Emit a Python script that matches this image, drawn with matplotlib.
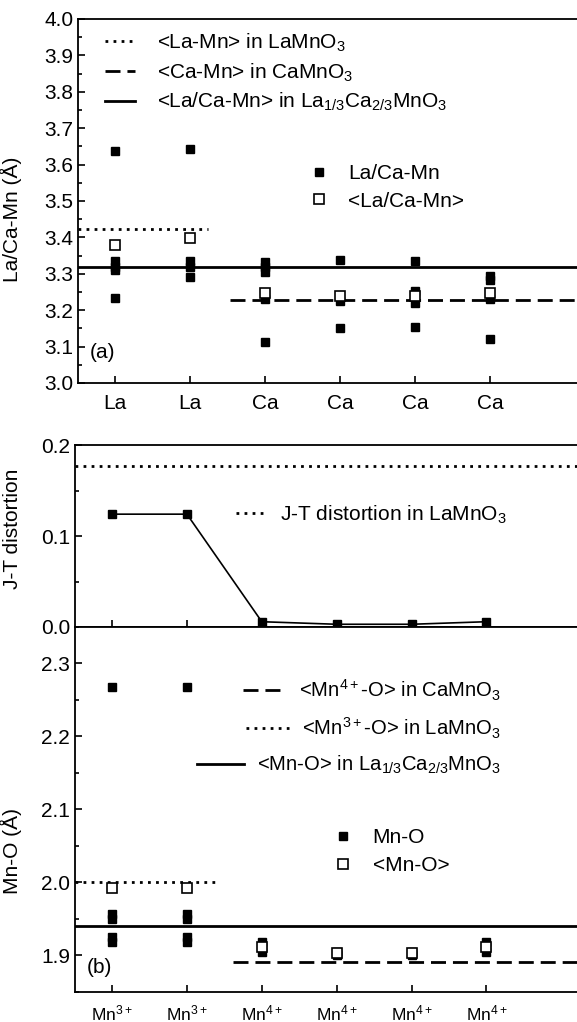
import numpy as np
import matplotlib.pyplot as plt
from matplotlib.ticker import MultipleLocator

plt.rcParams['font.family'] = ['Liberation Sans', 'DejaVu Sans']
plt.rcParams['mathtext.fontset'] = 'custom'
plt.rcParams['mathtext.rm'] = 'Liberation Sans'
plt.rcParams['mathtext.it'] = 'Liberation Sans:italic'
plt.rcParams['mathtext.bf'] = 'Liberation Sans:bold'
plt.rcParams['font.size'] = 15

# ---- data ----
positions = np.arange(1, 7)
site_labels = ['La', 'La', 'Ca', 'Ca', 'Ca', 'Ca']
mn_labels = [r'Mn$^{3+}$', r'Mn$^{3+}$', r'Mn$^{4+}$', r'Mn$^{4+}$', r'Mn$^{4+}$', r'Mn$^{4+}$']

# (a) La/Ca-Mn distances per A site
la_ca_mn = [
    [3.638, 3.335, 3.320, 3.310, 3.234],
    [3.642, 3.335, 3.320, 3.292],
    [3.333, 3.320, 3.305, 3.230, 3.112],
    [3.338, 3.226, 3.152],
    [3.335, 3.252, 3.221, 3.155],
    [3.295, 3.283, 3.230, 3.120],
]
la_ca_mn_mean = [3.379, 3.399, 3.248, 3.238, 3.239, 3.246]
la_mn_lamno3 = 3.422
ca_mn_camno3 = 3.228
la_ca_mn_avg = 3.320

# J-T distortion per Mn site
jt = [0.124, 0.124, 0.0058, 0.003, 0.003, 0.0058]
jt_lamno3 = 0.177

# (b) Mn-O distances per Mn site
mn_o = [
    [2.268, 1.957, 1.950, 1.925, 1.918],
    [2.268, 1.957, 1.950, 1.925, 1.918],
    [1.918, 1.912, 1.905],
    [1.905, 1.902, 1.900],
    [1.905, 1.902, 1.900],
    [1.918, 1.912, 1.905],
]
mn_o_mean = [1.993, 1.993, 1.911, 1.903, 1.903, 1.911]
mn4_o_camno3 = 1.891
mn3_o_lamno3 = 2.000
mn_o_avg = 1.941

DOT = (0, (1, 1.9))
DASH = (0, (5.4, 2.5))
LW = 2

fig = plt.figure(figsize=(5.77, 10.22), dpi=100)
W, H = 577, 1022


def px_axes(left, top, right, bottom):
    return fig.add_axes([left / W, 1 - bottom / H, (right - left) / W, (bottom - top) / H])


ax1 = px_axes(78, 19, 577, 383)
ax2 = px_axes(75, 445, 577, 627)
ax3 = px_axes(75, 627, 577, 992)

for ax in (ax1, ax2, ax3):
    ax.spines['right'].set_visible(False)
    for s in ax.spines.values():
        s.set_linewidth(1.3)
    ax.tick_params(which='both', direction='in', width=1.2, top=False, right=False)
    ax.tick_params(which='major', length=5)
    ax.tick_params(which='minor', length=3)
    ax.set_xticks(positions)

# ---- (a) ----
xs = np.concatenate([[p] * len(v) for p, v in zip(positions, la_ca_mn)])
ys = np.concatenate(la_ca_mn)
ax1.set_xlim(0.507, 7.16)
ax1.set_ylim(3.0, 4.0)
l1, = ax1.plot([0.507, 2.24], [la_mn_lamno3] * 2, color='black', lw=LW, ls=DOT,
               label=r'<La-Mn> in LaMnO$_3$')
l2, = ax1.plot([2.53, 7.16], [ca_mn_camno3] * 2, color='black', lw=LW, ls=DASH,
               label=r'<Ca-Mn> in CaMnO$_3$')
l3, = ax1.plot([0.507, 7.16], [la_ca_mn_avg] * 2, color='black', lw=LW, ls='-',
               label=r'<La/Ca-Mn> in La$_{1/3}$Ca$_{2/3}$MnO$_3$')
m1, = ax1.plot(xs, ys, 's', color='black', ms=6, ls='none', label='La/Ca-Mn', zorder=3)
m2, = ax1.plot(positions, la_ca_mn_mean, 's', mfc='white', mec='black', ms=7.5, mew=1.2,
               ls='none', label='<La/Ca-Mn>', zorder=4)
leg = ax1.legend(handles=[l1, l2, l3], loc='upper left', bbox_to_anchor=(0.054, 0.965),
                 frameon=False, borderpad=0, borderaxespad=0, handlelength=1.45,
                 handletextpad=1.05, labelspacing=0.35, fontsize=15)
ax1.add_artist(leg)
ax1.legend(handles=[m1, m2], loc='upper left', bbox_to_anchor=(0.462, 0.601),
           frameon=False, borderpad=0, borderaxespad=0, handlelength=1.0,
           handletextpad=0.9, labelspacing=0.4, fontsize=15, numpoints=1)
ax1.set_xticklabels(site_labels)
ax1.tick_params(axis='x', pad=8)
ax1.yaxis.set_major_locator(MultipleLocator(0.1))
ax1.yaxis.set_minor_locator(MultipleLocator(0.05))
ax1.set_ylabel('La/Ca-Mn (Å)')
ax1.yaxis.set_label_coords(-0.112, 0.45)
ax1.text(0.024, 0.085, '(a)', transform=ax1.transAxes, va='center', ha='left', fontsize=15)

# ---- J-T ----
ax2.set_xlim(0.505, 7.21)
ax2.set_ylim(0.0, 0.2)
ax2.plot(positions, jt, '-s', color='black', lw=1.2, ms=6)
l4, = ax2.plot([0.505, 7.21], [jt_lamno3] * 2, color='black', lw=LW, ls=DOT,
               label=r'J-T distortion in LaMnO$_3$')
ax2.legend(handles=[l4], loc='upper left', bbox_to_anchor=(0.32, 0.677), frameon=False,
           borderpad=0, borderaxespad=0, handlelength=1.35, handletextpad=0.8, fontsize=15)
ax2.set_xticklabels([])
ax2.yaxis.set_major_locator(MultipleLocator(0.1))
ax2.yaxis.set_minor_locator(MultipleLocator(0.05))
ax2.set_ylabel('J-T distortion')
ax2.yaxis.set_label_coords(-0.106, 0.54)

# ---- (b) ----
xs = np.concatenate([[p] * len(v) for p, v in zip(positions, mn_o)])
ys = np.concatenate(mn_o)
ax3.set_xlim(0.505, 7.21)
ax3.set_ylim(1.85, 2.35)
l5, = ax3.plot([2.62, 7.21], [mn4_o_camno3] * 2, color='black', lw=LW, ls=DASH,
               label=r'<Mn$^{4+}$-O> in CaMnO$_3$')
l6, = ax3.plot([0.505, 2.42], [mn3_o_lamno3] * 2, color='black', lw=LW, ls=DOT,
               label=r'<Mn$^{3+}$-O> in LaMnO$_3$')
l7, = ax3.plot([0.505, 7.21], [mn_o_avg] * 2, color='black', lw=LW, ls='-',
               label=r'<Mn-O> in La$_{1/3}$Ca$_{2/3}$MnO$_3$')
m3, = ax3.plot(xs, ys, 's', color='black', ms=6, ls='none', label='Mn-O', zorder=3)
m4, = ax3.plot(positions, mn_o_mean, 's', mfc='white', mec='black', ms=7.5, mew=1.2,
               ls='none', label='<Mn-O>', zorder=4)
# right-aligned legend rows, one legend per row
for h, hl, ytop in [(l5, 2.1, 0.862), (l6, 2.1, 0.757), (l7, 2.3, 0.652)]:
    lg = ax3.legend(handles=[h], loc='upper right', bbox_to_anchor=(0.848, ytop),
                    frameon=False, borderpad=0, borderaxespad=0, handlelength=hl,
                    handletextpad=0.65, fontsize=14.6)
    ax3.add_artist(lg)
ax3.legend(handles=[m3, m4], loc='upper left', bbox_to_anchor=(0.514, 0.448),
           frameon=False, borderpad=0, borderaxespad=0, handlelength=1.0,
           handletextpad=0.9, labelspacing=0.4, fontsize=15, numpoints=1)
ax3.set_xticklabels(mn_labels, fontsize=12.5)
ax3.tick_params(axis='x', pad=8)
ax3.yaxis.set_major_locator(MultipleLocator(0.1))
ax3.yaxis.set_minor_locator(MultipleLocator(0.05))
ax3.set_yticks([1.9, 2.0, 2.1, 2.2, 2.3])
ax3.set_ylabel('Mn-O (Å)')
ax3.yaxis.set_label_coords(-0.106, 0.385)
ax3.text(0.024, 0.066, '(b)', transform=ax3.transAxes, va='center', ha='left', fontsize=15)

fig.savefig('out.png', dpi=100)
